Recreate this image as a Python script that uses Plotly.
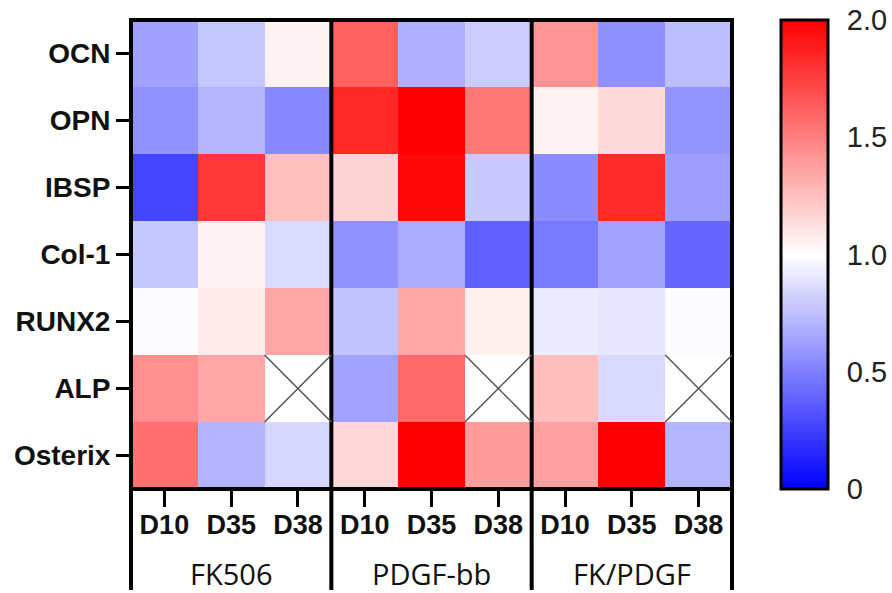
import plotly.graph_objects as go

genes = ["OCN", "OPN", "IBSP", "Col-1", "RUNX2", "ALP", "Osterix"]
days = ["D10", "D35", "D38"]
groups = ["FK506", "PDGF-bb", "FK/PDGF"]

# values per group: rows = genes, cols = D10, D35, D38 (None = not measured)
fk506_vals = [
    [0.63, 0.78, 1.05],
    [0.57, 0.71, 0.53],
    [0.27, 1.79, 1.25],
    [0.78, 1.05, 0.86],
    [0.99, 1.08, 1.35],
    [1.44, 1.35, None],
    [1.56, 0.70, 0.84],
]
pdgf_vals = [
    [1.62, 0.69, 0.80],
    [1.85, 2.00, 1.53],
    [1.17, 1.97, 0.79],
    [0.57, 0.67, 0.38],
    [0.76, 1.34, 1.06],
    [0.64, 1.59, None],
    [1.15, 2.00, 1.39],
]
fkpdgf_vals = [
    [1.42, 0.56, 0.74],
    [1.05, 1.14, 0.58],
    [0.55, 1.83, 0.62],
    [0.48, 0.64, 0.40],
    [0.92, 0.90, 0.99],
    [1.26, 0.85, None],
    [1.37, 2.00, 0.71],
]
cbar_ticks = [0, 0.5, 1.0, 1.5, 2.0]
cbar_text = ["0", "0.5", "1.0", "1.5", "2.0"]

group_vals = [fk506_vals, pdgf_vals, fkpdgf_vals]
z = []
for r in range(len(genes)):
    row = []
    for g in group_vals:
        row.extend(g[r])
    z.append(row)

ncol = len(groups) * len(days)
xs = list(range(ncol))
ys = list(range(len(genes)))
xtext = days * len(groups)

W_PLOT = 601.0
H_PLOT = 469.0
cb_x0 = (781 - 131) / W_PLOT

fig = go.Figure()
fig.add_trace(go.Heatmap(
    z=z, x=xs, y=ys,
    zmin=0, zmax=2,
    colorscale=[[0, "rgb(0,0,255)"], [0.5, "rgb(255,255,255)"], [1, "rgb(255,0,0)"]],
    hoverongaps=False,
    colorbar=dict(
        x=cb_x0, xanchor="left", xpad=0,
        y=0.5, yanchor="middle", ypad=0,
        len=1.0, lenmode="fraction",
        thickness=47, thicknessmode="pixels",
        outlinewidth=3, outlinecolor="black",
        tickvals=cbar_ticks, ticktext=cbar_text,
        ticks="outside", ticklen=12, tickcolor="rgba(0,0,0,0)",
        tickfont=dict(family="Liberation Sans, Arial", size=29, color="#222"),
    ),
))

shapes = []
# outer frame
shapes.append(dict(type="rect", xref="paper", yref="paper", x0=0, x1=1, y0=0, y1=1,
                   line=dict(color="black", width=4), layer="above"))
# group dividers and extended lines below the plot
y_low = -101 / H_PLOT
for gi in range(len(groups) + 1):
    xp = gi / len(groups)
    shapes.append(dict(type="line", xref="paper", yref="paper", x0=xp, x1=xp,
                       y0=y_low, y1=1, line=dict(color="black", width=4), layer="above"))
# X marks for missing cells
for r, row in enumerate(z):
    for c, v in enumerate(row):
        if v is None:
            shapes.append(dict(type="line", xref="x", yref="y", x0=c - 0.5, x1=c + 0.5,
                               y0=r - 0.5, y1=r + 0.5, line=dict(color="#555", width=1.5)))
            shapes.append(dict(type="line", xref="x", yref="y", x0=c - 0.5, x1=c + 0.5,
                               y0=r + 0.5, y1=r - 0.5, line=dict(color="#555", width=1.5)))
# colorbar inner tick marks on both sides
cb_w = 47 / W_PLOT
tick_w = 9 / W_PLOT
for t in cbar_ticks[1:-1]:
    yp = t / 2.0
    shapes.append(dict(type="line", xref="paper", yref="paper", x0=cb_x0, x1=cb_x0 + tick_w,
                       y0=yp, y1=yp, line=dict(color="black", width=3)))
    shapes.append(dict(type="line", xref="paper", yref="paper", x0=cb_x0 + cb_w - tick_w,
                       x1=cb_x0 + cb_w, y0=yp, y1=yp, line=dict(color="black", width=3)))

annotations = []
for gi, g in enumerate(groups):
    annotations.append(dict(text=g, xref="paper", yref="paper",
                            x=(gi + 0.5) / len(groups), y=0, yshift=-84,
                            xanchor="center", yanchor="middle", showarrow=False,
                            font=dict(family="Open Sans", size=29, color="#111")))

fig.update_layout(
    width=892, height=593,
    margin=dict(l=131, r=160, t=20, b=104, autoexpand=False),
    paper_bgcolor="white", plot_bgcolor="white",
    shapes=shapes, annotations=annotations,
    xaxis=dict(tickvals=xs, ticktext=[f"<b>{t}</b>" for t in xtext], range=[-0.5, ncol - 0.5],
               ticks="outside", ticklen=17, tickwidth=3, tickcolor="black",
               ticklabelstandoff=-5,
               tickfont=dict(family="Liberation Sans, Arial", size=27, color="#111"),
               showgrid=False, zeroline=False, showline=False, fixedrange=True,
               automargin=False),
    yaxis=dict(tickvals=ys, ticktext=[f"<b>{t}</b>" for t in genes], range=[len(genes) - 0.5, -0.5],
               ticks="outside", ticklen=14, tickwidth=3, tickcolor="black",
               tickfont=dict(family="Liberation Sans, Arial", size=28, color="#111"),
               showgrid=False, zeroline=False, showline=False, fixedrange=True,
               automargin=False),
    showlegend=False,
)

fig.write_html("out.html", config={"displayModeBar": False},
               post_script="document.body.style.margin='0px';")
